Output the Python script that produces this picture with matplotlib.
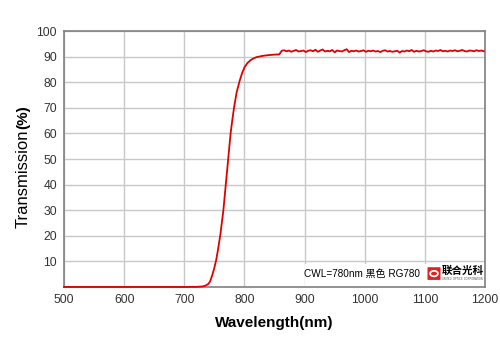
import matplotlib
matplotlib.use("Agg")
import matplotlib.pyplot as plt
from matplotlib.patches import FancyBboxPatch, Circle, Rectangle

plt.rcParams['font.family'] = ['Liberation Sans', 'Noto Sans CJK SC', 'DejaVu Sans']

# Edge region
edge_wl = [500, 600, 700, 720, 730, 735, 740, 743, 747, 750, 753, 756, 760, 765, 769, 773,
           777, 780, 783, 787, 792, 796, 800, 805, 810, 815, 820, 830, 840, 850, 858]
edge_t = [0.0, 0.0, 0.0, 0.05, 0.2, 0.5, 1.2, 2.2, 5.0, 7.5, 10.5, 14.5, 20.5, 30.0, 40.0, 50.0,
          60.0, 65.5, 70.5, 76.0, 80.5, 83.5, 85.8, 87.5, 88.6, 89.3, 89.8, 90.3, 90.6, 90.8, 90.9]

# Plateau region (noisy, read approximately)
plat_wl = list(range(862, 1201, 4))
plat_t = [92.3, 92.5, 92.1, 92.4, 91.9, 92.3, 92.6, 92.0, 92.2, 92.4,
          91.8, 92.3, 92.5, 92.1, 92.7, 91.9, 92.4, 92.8, 92.0, 92.3,
          92.1, 92.6, 91.7, 92.4, 92.2, 92.0, 92.5, 92.9, 91.8, 92.3,
          92.1, 92.4, 92.0, 92.2, 92.5, 91.9, 92.3, 92.1, 92.4, 92.0,
          92.2, 91.8, 92.3, 92.5, 92.0, 92.2, 91.9, 92.1, 92.3, 91.6,
          92.2, 92.0, 92.4, 92.1, 92.6, 91.9, 92.3, 92.0, 92.2, 92.5,
          92.1, 91.9, 92.3, 92.0, 92.4, 92.2, 92.6, 92.1, 92.3, 92.0,
          92.4, 92.2, 92.5, 92.1, 92.3, 92.6, 92.2, 92.0, 92.4, 92.3,
          92.1, 92.5, 92.2, 92.4, 92.1]

wl = edge_wl + plat_wl
tr = edge_t + plat_t[:len(plat_wl)]

xticks = [500, 600, 700, 800, 900, 1000, 1100, 1200]
yticks = [10, 20, 30, 40, 50, 60, 70, 80, 90, 100]

fig = plt.figure(figsize=(5.0, 3.53), dpi=100)
ax = fig.add_axes([0.128, 0.187, 0.842, 0.725])

ax.plot(wl, tr, color='#e00000', lw=1.3, zorder=3, clip_on=False)

ax.set_xlim(500, 1200)
ax.set_ylim(0, 100)
ax.set_xticks(xticks)
ax.set_yticks(yticks)
ax.tick_params(axis='both', labelsize=8.8, length=0, pad=5, colors='#333333')
ax.grid(True, color='#c8c8c8', lw=1.0)
ax.set_axisbelow(True)
for s in ax.spines.values():
    s.set_color('#808080')
    s.set_linewidth(1.2)

ax.set_xlabel('Wavelength(nm)', fontsize=11, fontweight='bold', labelpad=7)
fig.text(0.046, 1 - 228 / 353, 'Transmission', rotation=90, fontsize=12, ha='center', va='bottom')
fig.text(0.046, 1 - 129 / 353, '(%)', rotation=90, fontsize=11, fontweight='bold', ha='center', va='bottom')

# annotation box (white background covering the grid)
ax.add_patch(Rectangle((901, 0.4), 298, 8.6, facecolor='white', edgecolor='none', zorder=2))
fig.text(0.608, 0.223, 'CWL=780nm 黑色 RG780', fontsize=7.2, ha='left', va='center',
         family=['Liberation Sans', 'Noto Sans CJK SC'])
# logo
fig.patches.append(FancyBboxPatch((0.856, 0.208), 0.024, 0.034, boxstyle='round,pad=0.001',
                                  transform=fig.transFigure, facecolor='#e02020', edgecolor='none', zorder=5))
fig.patches.append(Circle((0.868, 0.225), 0.0078, transform=fig.transFigure,
                          facecolor='none', edgecolor='white', lw=1.3, zorder=6))
fig.text(0.884, 0.233, '联合光科', fontsize=7.6, fontweight='bold', ha='left', va='center',
         family=['Noto Sans CJK SC'], zorder=6)
fig.text(0.885, 0.210, 'UNITED  OPTICS  CORPORATION', fontsize=1.8, ha='left', va='center',
         color='#444444', zorder=6)

fig.savefig('out.png', dpi=100, facecolor='white')
